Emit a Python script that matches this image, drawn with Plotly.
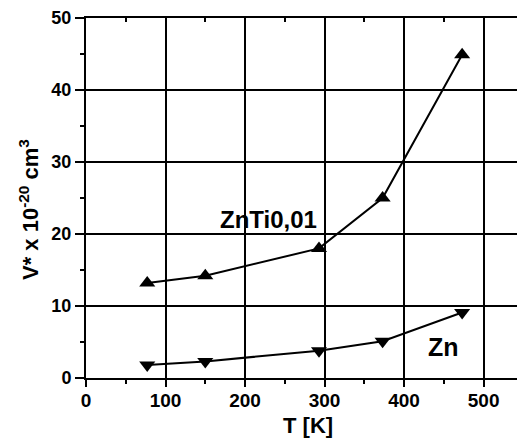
import plotly.graph_objects as go

# Temperature points (K)
temps = [77, 150, 293, 373, 473]
# Activation volume V* (x 10^-20 cm^3)
v_znti = [13.2, 14.2, 18.0, 25.0, 44.9]
v_zn = [1.8, 2.3, 3.8, 5.1, 9.1]

x_ticks = [0, 100, 200, 300, 400, 500]
y_ticks = [0, 10, 20, 30, 40, 50]

FONT = "Liberation Sans, Arial, sans-serif"

fig = go.Figure()
fig.add_trace(go.Scatter(
    x=temps, y=v_znti, mode="lines+markers", name="ZnTi0,01",
    line=dict(color="black", width=2),
    marker=dict(symbol="triangle-up", size=14, color="black"),
))
fig.add_trace(go.Scatter(
    x=temps, y=v_zn, mode="lines+markers", name="Zn",
    line=dict(color="black", width=2),
    marker=dict(symbol="triangle-down", size=14, color="black"),
))
# invisible trace to anchor the top frame axis
fig.add_trace(go.Scatter(x=[0], y=[0], xaxis="x2", mode="markers",
                         marker=dict(opacity=0), showlegend=False, hoverinfo="skip"))

bold = dict(family=FONT, color="black", weight="bold")

fig.update_layout(
    width=517, height=440,
    margin=dict(l=86, r=0, t=18, b=62),
    paper_bgcolor="white", plot_bgcolor="white",
    showlegend=False,
    font=dict(family=FONT, color="black"),
    xaxis=dict(
        range=[0, 542], tickvals=x_ticks,
        tickfont=dict(bold, size=19), showline=True, linecolor="black", linewidth=2,
        ticks="outside", ticklen=7, tickwidth=2, tickcolor="black",
        ticklabelstandoff=-3,
        showgrid=True, gridcolor="black", gridwidth=1.5, zeroline=False,
        minor=dict(dtick=50, tick0=50, ticks="outside", ticklen=4, tickwidth=1.5,
                   tickcolor="black", showgrid=False),
    ),
    xaxis2=dict(
        overlaying="x", side="top", matches="x", range=[0, 542],
        showticklabels=False, showline=True, linecolor="black", linewidth=2,
        ticks="", showgrid=False, zeroline=False,
        minor=dict(dtick=50, tick0=50, ticks="inside", ticklen=4, tickwidth=1.5,
                   tickcolor="black", showgrid=False),
    ),
    yaxis=dict(
        range=[0, 50], tickvals=y_ticks,
        tickfont=dict(bold, size=18), showline=True, linecolor="black", linewidth=2,
        ticks="outside", ticklen=9, tickwidth=2, tickcolor="black",
        showgrid=True, gridcolor="black", gridwidth=1.5, zeroline=False,
        minor=dict(dtick=5, tick0=5, ticks="outside", ticklen=4, tickwidth=1.5,
                   tickcolor="black", showgrid=False),
    ),
    annotations=[
        dict(text="ZnTi0,01", x=229, y=22, xref="x", yref="y",
             showarrow=False, font=dict(bold, size=24)),
        dict(text="Zn", x=450, y=4.3, xref="x", yref="y",
             showarrow=False, font=dict(bold, size=25)),
        dict(text="T [K]", x=(308 - 86) / (517 - 86), y=0, xref="paper", yref="paper",
             yanchor="bottom", yshift=-62,
             showarrow=False, font=dict(bold, size=22)),
        dict(text="V* x 10<sup>-20</sup> cm<sup>3</sup>", textangle=-90,
             x=0, y=0.5, xref="paper", yref="paper", xanchor="center", yanchor="middle",
             xshift=-57, yshift=-12, showarrow=False, font=dict(bold, size=22)),
    ],
)

fig.write_html("out.html")
